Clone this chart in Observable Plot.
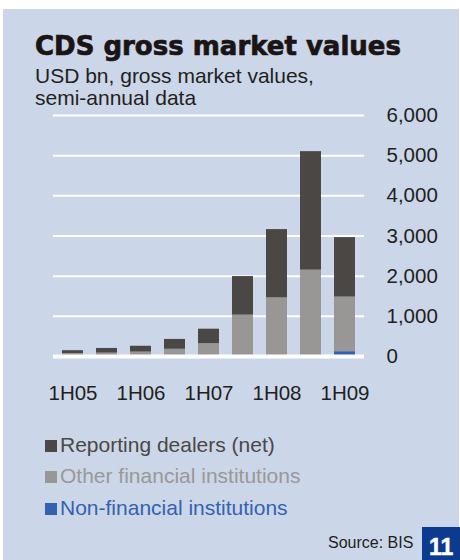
<!DOCTYPE html>
<html>
<head>
<meta charset="utf-8">
<script src="https://cdn.jsdelivr.net/npm/d3@7"></script>
<script src="https://cdn.jsdelivr.net/npm/@observablehq/plot@0.6"></script>
<style>
  html, body { margin: 0; padding: 0; background: #ffffff; }
  #page { position: relative; width: 460px; height: 560px; overflow: hidden; background: #ffffff; font-family: "Liberation Sans", Arial, sans-serif; }
  #panel { position: absolute; left: 3px; top: 9px; width: 456px; height: 551px; background: #cbd6e8; }
  .t { position: absolute; line-height: 1; white-space: nowrap; }
  #chart { position: absolute; left: 0; top: 100px; }
  .sw { display: inline-block; width: 12px; height: 12px; margin-right: 3px; vertical-align: 0px; }
</style>
</head>
<body>
<div id="page">
  <div id="panel"></div>
  <div class="t" id="title" style="left:35px; top:33px; font-family:'DejaVu Sans'; font-weight:bold; font-size:26px; color:#1a1414; -webkit-text-stroke:0.7px #1a1414;">CDS gross market values</div>
  <div class="t" style="left:35px; top:65px; font-size:21px; color:#231f20;">USD bn, gross market values,</div>
  <div class="t" style="left:35px; top:87px; font-size:21px; color:#231f20;">semi-annual data</div>
  <div id="chart"></div>
  <div id="legend"></div>
  <div class="t" style="left:328px; top:535px; font-size:16px; color:#231f20;">Source: BIS</div>
  <div style="position:absolute; left:422px; top:527px; width:38px; height:33px; background:#0b3a8f;"></div>
  <div class="t" style="left:429px; top:536px; font-size:23px; font-weight:bold; color:#ffffff; -webkit-text-stroke:0.5px #ffffff;">11</div>
</div>
<script>
const periods = ["1H05","2H05","1H06","2H06","1H07","2H07","1H08","2H08","1H09"];
const tickLabels = ["1H05","1H06","1H07","1H08","1H09"];
const seriesNames = ["Non-financial institutions","Other financial institutions","Reporting dealers (net)"];
const nonFinancial = [0, 0, 0, 0, 0, 0, 0, 25, 120];
const otherFinancial = [75, 85, 110, 180, 320, 1030, 1460, 2125, 1360];
const reportingDealers = [70, 115, 145, 245, 360, 960, 1700, 2950, 1480];
const yTicks = [0, 1000, 2000, 3000, 4000, 5000, 6000];
const colors = ["#3462b0", "#989795", "#4b4745"];

const seriesValues = [nonFinancial, otherFinancial, reportingDealers];
const rows = [];
seriesNames.forEach((s, i) => periods.forEach((p, j) => rows.push({period: p, series: s, value: seriesValues[i][j]})));

const chart = Plot.plot({
  width: 460,
  height: 310,
  marginLeft: 53,
  marginRight: 96,
  marginTop: 15,
  marginBottom: 54,
  style: {background: "transparent", fontFamily: "'Liberation Sans', Arial, sans-serif", fontSize: "20.5px", color: "#231f20"},
  x: {domain: periods, paddingInner: 0.37, paddingOuter: 0.19, label: null},
  y: {domain: [0, 6000], label: null},
  color: {domain: seriesNames, range: colors},
  marks: [
    Plot.ruleY(yTicks.filter(d => d > 0), {stroke: "#ffffff", strokeWidth: 2, strokeOpacity: 1}),
    Plot.barY(rows, {x: "period", y: "value", fill: "series", order: seriesNames}),
    Plot.ruleY([0], {stroke: "#ffffff", strokeWidth: 4}),
    Plot.axisY({anchor: "right", ticks: yTicks, tickFormat: d3.format(","), tickSize: 0, tickPadding: 22, label: null, fontSize: 20.5}),
    Plot.axisX({ticks: tickLabels, tickSize: 0, tickPadding: 29, label: null, fontSize: 20.5})
  ]
});
document.getElementById("chart").appendChild(chart);

const legend = document.getElementById("legend");
const legendItems = [
  {name: seriesNames[2], color: colors[2], text: "#4b4745"},
  {name: seriesNames[1], color: colors[1], text: "#9a9896"},
  {name: seriesNames[0], color: colors[0], text: "#3462b0"}
];
const legendTops = [434, 465, 497];
legendItems.forEach((it, i) => {
  const d = document.createElement("div");
  d.className = "t";
  d.style.left = "45px";
  d.style.top = legendTops[i] + "px";
  d.style.fontSize = "21px";
  d.style.color = it.text;
  d.innerHTML = `<span class="sw" style="background:${it.color}"></span>${it.name}`;
  legend.appendChild(d);
});
</script>
</body>
</html>
